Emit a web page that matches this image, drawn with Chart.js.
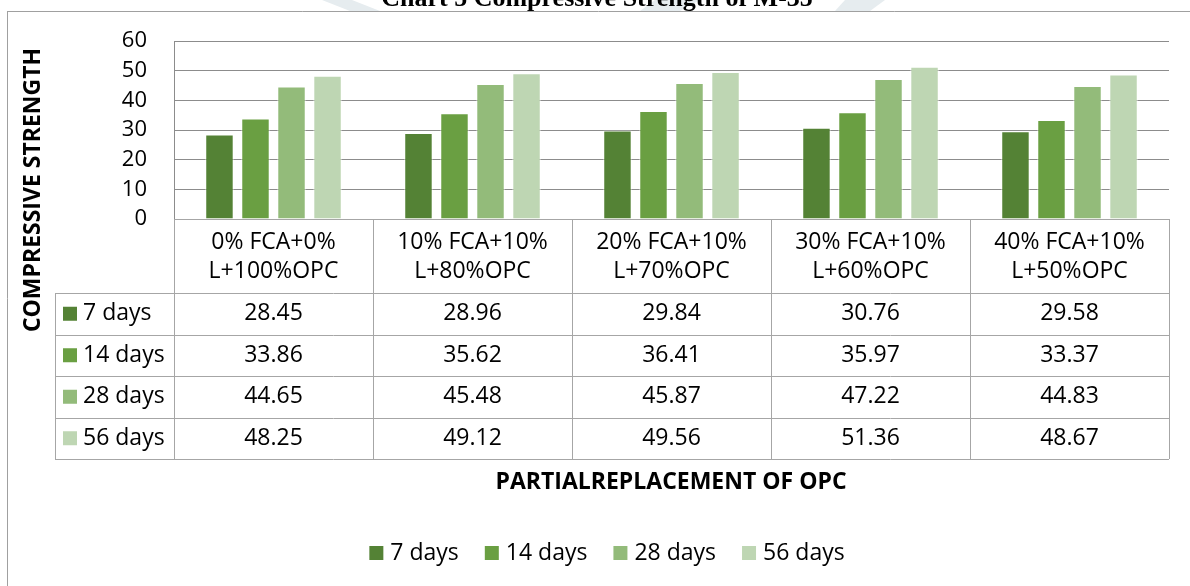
<!DOCTYPE html>
<html>
<head>
<meta charset="utf-8">
<title>Chart 5 Compressive Strength of M-35</title>
<script src="https://cdn.jsdelivr.net/npm/chart.js@4.4.1/dist/chart.umd.min.js"></script>
<style>
    body { margin: 0; background: #fff; }
    canvas { display: block; }
</style>
</head>
<body>
<canvas id="chart" width="1190" height="586"></canvas>
<script>
const categories = [
    ["0% FCA+0%", "L+100%OPC"],
    ["10% FCA+10%", "L+80%OPC"],
    ["20% FCA+10%", "L+70%OPC"],
    ["30% FCA+10%", "L+60%OPC"],
    ["40% FCA+10%", "L+50%OPC"]
];
const seriesNames = ["7 days", "14 days", "28 days", "56 days"];
const days7 = [28.45, 28.96, 29.84, 30.76, 29.58];
const days14 = [33.86, 35.62, 36.41, 35.97, 33.37];
const days28 = [44.65, 45.48, 45.87, 47.22, 44.83];
const days56 = [48.25, 49.12, 49.56, 51.36, 48.67];
const yTicks = [0, 10, 20, 30, 40, 50, 60];

const chartTitle = "Chart 5 Compressive Strength of M-35";
const yTitle = "COMPRESSIVE STRENGTH";
const xTitle = "PARTIALREPLACEMENT OF OPC";

const colors = ["#548235", "#6a9f42", "#93bb7a", "#bed6b3"];
const seriesValues = [days7, days14, days28, days56];

const FONT = "'Open Sans', sans-serif";
const LINE = "#a6a6a6";

function hline(ctx, x1, x2, y) {
    y = Math.round(y) + 0.5;
    ctx.beginPath();
    ctx.moveTo(x1, y);
    ctx.lineTo(x2, y);
    ctx.stroke();
}

function vline(ctx, x, y1, y2) {
    x = Math.round(x) + 0.5;
    ctx.beginPath();
    ctx.moveTo(x, y1);
    ctx.lineTo(x, y2);
    ctx.stroke();
}

// page frame, watermark and cut-off caption
const framePlugin = {
    id: 'frame',
    beforeDraw(chart) {
        const ctx = chart.ctx;
        ctx.save();
        ctx.fillStyle = "#fff";
        ctx.fillRect(0, 0, chart.width, chart.height);

        ctx.beginPath();
        ctx.rect(0, 0, chart.width, 11);
        ctx.clip();
        ctx.fillStyle = "#e6ecef";
        [[322, 352, 380, 350], [655, 700, 680, 640], [845, 885, 870, 835]].forEach(b => {
            ctx.beginPath();
            ctx.moveTo(b[0], 0);
            ctx.lineTo(b[1], 0);
            ctx.lineTo(b[2], 11);
            ctx.lineTo(b[3], 11);
            ctx.closePath();
            ctx.fill();
        });
        ctx.fillStyle = "#000";
        ctx.font = "bold 26px 'Liberation Serif', serif";
        ctx.textAlign = "center";
        ctx.textBaseline = "alphabetic";
        ctx.fillText(chartTitle, 597, 6);
        ctx.restore();

        ctx.save();
        ctx.strokeStyle = "#a0a0a0";
        ctx.lineWidth = 1;
        hline(ctx, 7, chart.width, 11);
        vline(ctx, 7, 11, chart.height);
        ctx.restore();
    }
};

// data table under the plot, axis titles and legend
const tablePlugin = {
    id: 'dataTable',
    afterDraw(chart) {
        const ctx = chart.ctx;
        const area = chart.chartArea;
        const x = chart.scales.x;
        const step = x.getPixelForValue(1) - x.getPixelForValue(0);
        const top = area.bottom;
        const headBottom = top + 74;
        const rowH = 41.5;
        const bottom = headBottom + rowH * seriesNames.length;
        const labelLeft = 55;

        ctx.save();
        ctx.strokeStyle = LINE;
        ctx.lineWidth = 1;
        hline(ctx, area.left, area.right, top);
        for (let r = 0; r <= seriesNames.length; r++) {
            hline(ctx, labelLeft, area.right, headBottom + r * rowH);
        }
        for (let i = 0; i <= categories.length; i++) {
            vline(ctx, x.getPixelForValue(i) - step / 2, top, bottom);
        }
        vline(ctx, labelLeft, headBottom, bottom);

        ctx.fillStyle = "#000";
        ctx.textBaseline = "middle";
        ctx.textAlign = "center";
        ctx.font = "23px " + FONT;
        categories.forEach((c, i) => {
            const cx = x.getPixelForValue(i);
            ctx.fillText(c[0], cx, top + 23);
            ctx.fillText(c[1], cx, top + 52);
            seriesValues.forEach((vals, r) => {
                ctx.fillText(vals[i].toFixed(2), cx, headBottom + rowH * (r + 0.5));
            });
        });

        ctx.textAlign = "left";
        seriesNames.forEach((name, r) => {
            const cy = headBottom + rowH * (r + 0.5);
            ctx.fillStyle = colors[r];
            ctx.fillRect(63, cy - 7, 14, 14);
            ctx.fillStyle = "#000";
            ctx.fillText(name, 83, cy);
        });

        // legend
        const gap = 26;
        let total = 0;
        const widths = seriesNames.map(n => ctx.measureText(n).width);
        widths.forEach(w => total += 14 + 7 + w);
        total += gap * (seriesNames.length - 1);
        let lx = 607 - total / 2;
        const ly = 553;
        seriesNames.forEach((name, r) => {
            ctx.fillStyle = colors[r];
            ctx.fillRect(lx, ly - 7, 14, 14);
            ctx.fillStyle = "#000";
            ctx.fillText(name, lx + 21, ly);
            lx += 21 + widths[r] + gap;
        });

        ctx.font = "bold 23px " + FONT;
        ctx.textAlign = "center";
        ctx.fillText(xTitle, 671, 482);

        ctx.translate(33, 190);
        ctx.rotate(-Math.PI / 2);
        ctx.fillText(yTitle, 0, 0);
        ctx.restore();
    }
};

const chart = new Chart(document.getElementById("chart"), {
    type: 'bar',
    data: {
        labels: categories,
        datasets: seriesNames.map((name, i) => ({
            label: name,
            data: seriesValues[i],
            backgroundColor: colors[i],
            borderColor: "rgba(255,255,255,0.6)",
            borderWidth: 1,
            categoryPercentage: 0.724,
            barPercentage: 0.79
        }))
    },
    options: {
        responsive: false,
        animation: false,
        layout: { padding: { left: 0, top: 41, right: 21, bottom: 367 } },
        plugins: {
            legend: { display: false },
            tooltip: { enabled: false }
        },
        scales: {
            x: { display: false },
            y: {
                min: yTicks[0],
                max: yTicks[yTicks.length - 1],
                afterFit(scale) { scale.width = 174; },
                afterBuildTicks(scale) { scale.ticks = yTicks.map(v => ({ value: v })); },
                grid: { color: "#8c8c8c", drawTicks: false },
                border: { color: "#8c8c8c" },
                ticks: {
                    padding: 27,
                    color: "#000",
                    font: { family: FONT, size: 22 }
                }
            }
        }
    },
    plugins: [framePlugin, tablePlugin]
});
</script>
</body>
</html>
